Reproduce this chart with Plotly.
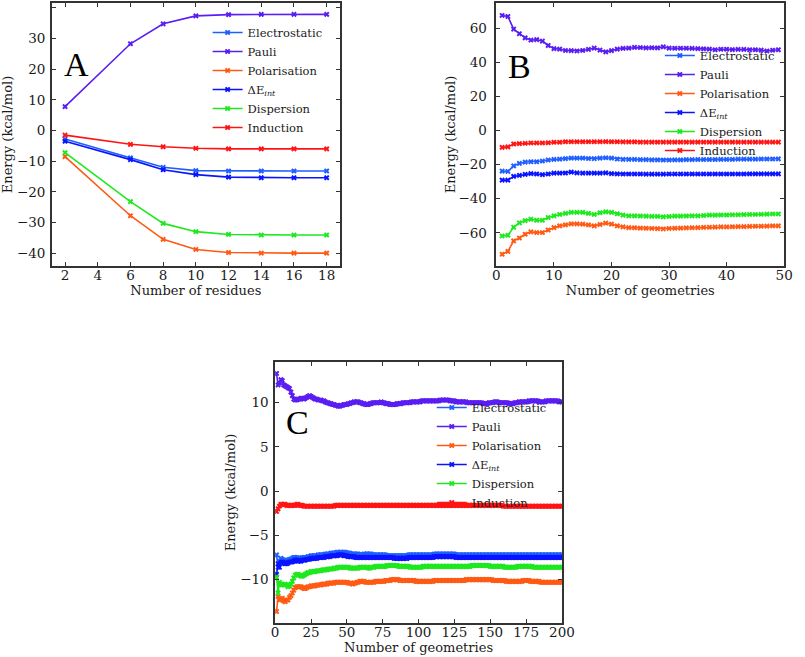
import plotly.graph_objects as go

# ---------------- Panel A ----------------
a_residues = [2, 6, 8, 10, 12, 14, 16, 18]
a_electrostatic = [-2.8, -8.9, -12.0, -13.1, -13.2, -13.2, -13.2, -13.2]
a_pauli = [7.8, 28.3, 34.8, 37.4, 37.8, 37.9, 37.9, 37.9]
a_polarisation = [-8.5, -27.8, -35.5, -38.8, -39.8, -40.0, -40.0, -40.0]
a_deint = [-3.5, -9.5, -12.8, -14.4, -15.2, -15.4, -15.4, -15.4]
a_dispersion = [-7.2, -23.2, -30.3, -33.0, -33.9, -34.1, -34.1, -34.1]
a_induction = [-1.5, -4.5, -5.3, -5.8, -6.0, -6.0, -6.0, -6.0]

# ---------------- Panel B ----------------
b_geoms = list(range(1, 50))
b_pauli = [67.4, 66.8, 59.4, 56.7, 54.3, 53.0, 53.2, 52.4, 49.8, 48.0,
           47.7, 46.9, 46.8, 46.6, 46.9, 47.5, 48.3, 47.1, 46.1, 46.8,
           47.7, 48.1, 48.3, 48.7, 48.6, 48.4, 48.5, 48.4, 49.0, 48.3,
           48.2, 48.2, 48.2, 48.1, 48.0, 47.8, 47.7, 47.3, 47.6, 47.6,
           47.4, 47.5, 47.5, 47.3, 47.3, 47.1, 46.6, 47.0, 47.3]
b_induction = [-9.9, -9.6, -7.9, -7.7, -7.5, -7.3, -7.3, -7.3, -7.2, -6.9,
               -6.9, -6.6, -6.6, -6.6, -6.6, -6.6, -6.6, -6.6, -6.5, -6.6,
               -6.6, -6.7, -6.7, -6.7, -6.8, -6.8, -6.8, -6.8, -6.8, -6.8,
               -6.8, -6.8, -6.8, -6.8, -6.8, -6.8, -6.8, -6.8, -6.8, -6.8,
               -6.8, -6.8, -6.8, -6.8, -6.8, -6.8, -6.8, -6.8, -6.8]
b_electrostatic = [-23.8, -24.0, -20.7, -19.3, -18.5, -18.3, -18.3, -17.9, -17.3, -16.9,
                   -16.8, -16.5, -16.2, -16.2, -16.2, -16.4, -16.5, -16.2, -16.0, -16.2,
                   -16.7, -16.9, -16.9, -16.9, -17.1, -17.1, -17.2, -17.2, -17.3, -17.3,
                   -17.2, -17.2, -17.1, -17.1, -17.0, -17.0, -17.0, -17.0, -16.9, -16.9,
                   -16.9, -16.8, -16.8, -16.8, -16.8, -16.7, -16.7, -16.7, -16.6]
b_deint = [-29.1, -29.1, -26.9, -26.3, -25.7, -25.3, -25.5, -25.9, -25.5, -25.0,
           -25.0, -24.9, -24.4, -24.8, -25.0, -25.0, -25.0, -25.0, -24.8, -25.3,
           -25.4, -25.5, -25.5, -25.5, -25.5, -25.6, -25.6, -25.6, -25.6, -25.5,
           -25.5, -25.5, -25.5, -25.5, -25.5, -25.5, -25.5, -25.5, -25.5, -25.5,
           -25.5, -25.5, -25.5, -25.4, -25.4, -25.4, -25.4, -25.4, -25.4]
b_dispersion = [-61.8, -61.4, -56.7, -54.1, -52.8, -52.0, -52.6, -52.6, -51.0, -50.0,
                -49.2, -48.6, -48.0, -48.0, -48.0, -48.6, -49.2, -48.2, -47.7, -48.0,
                -48.8, -49.6, -50.0, -50.0, -50.1, -50.2, -50.3, -50.3, -50.6, -50.4,
                -50.2, -50.2, -50.1, -50.0, -50.0, -49.8, -49.6, -49.6, -49.5, -49.5,
                -49.4, -49.4, -49.3, -49.2, -49.2, -49.1, -49.0, -48.9, -48.9]
b_polarisation = [-72.5, -70.8, -64.7, -63.0, -60.8, -59.4, -59.8, -59.8, -58.3, -56.9,
                  -55.9, -55.3, -54.7, -54.7, -54.9, -55.3, -55.9, -55.1, -54.3, -54.9,
                  -55.9, -56.5, -56.9, -57.0, -57.2, -57.3, -57.4, -57.5, -57.7, -57.4,
                  -57.3, -57.2, -57.1, -57.0, -56.9, -56.8, -56.7, -56.6, -56.5, -56.5,
                  -56.4, -56.3, -56.3, -56.2, -56.1, -56.1, -56.0, -55.9, -55.9]

# ---------------- Panel C ----------------
c_geoms = list(range(1, 201))
c_pauli = [13.3, 12.0, 12.2, 12.6, 12.5, 12.0, 11.9, 11.8, 11.7, 11.6,
           11.2, 10.8, 10.4, 10.3, 10.3, 10.4, 10.4, 10.5, 10.5, 10.4,
           10.5, 10.6, 10.7, 10.8, 10.7, 10.6, 10.5, 10.4, 10.4, 10.3,
           10.3, 10.3, 10.2, 10.2, 10.1, 10.0, 10.0, 9.9, 9.9, 9.8,
           9.8, 9.7, 9.7, 9.6, 9.6, 9.7, 9.7, 9.8, 9.8, 9.8,
           9.9, 9.9, 10.0, 10.0, 10.1, 10.1, 10.1, 10.1, 10.0, 10.0,
           9.9, 9.9, 9.8, 9.8, 9.8, 9.9, 9.9, 10.0, 10.0, 10.0,
           10.0, 10.0, 10.0, 10.1, 10.0, 10.0, 9.9, 9.9, 9.9, 9.8,
           9.8, 9.8, 9.8, 9.8, 9.9, 9.9, 9.9, 9.9, 10.0, 10.0,
           10.0, 10.0, 10.0, 10.0, 10.1, 10.1, 10.1, 10.1, 10.1, 10.1,
           10.1, 10.2, 10.2, 10.2, 10.2, 10.2, 10.2, 10.2, 10.2, 10.2,
           10.2, 10.2, 10.2, 10.2, 10.3, 10.3, 10.3, 10.3, 10.3, 10.3,
           10.3, 10.2, 10.2, 10.2, 10.2, 10.1, 10.1, 10.1, 10.1, 10.1,
           10.1, 10.1, 10.1, 10.0, 10.0, 10.0, 10.0, 10.0, 10.0, 10.0,
           10.0, 10.0, 10.0, 10.0, 9.9, 9.9, 9.9, 9.9, 10.0, 10.0,
           10.0, 10.0, 10.1, 10.1, 10.1, 10.0, 10.0, 10.0, 10.0, 10.0,
           10.0, 10.0, 9.9, 9.9, 9.9, 9.9, 10.0, 10.0, 10.0, 10.1,
           10.1, 10.1, 10.1, 10.1, 10.1, 10.1, 10.2, 10.2, 10.2, 10.2,
           10.2, 10.2, 10.2, 10.1, 10.1, 10.1, 10.1, 10.1, 10.2, 10.2,
           10.2, 10.2, 10.2, 10.2, 10.2, 10.2, 10.2, 10.1, 10.1, 10.1]
c_induction = [-2.3, -2.0, -1.7, -1.5, -1.5, -1.5, -1.5, -1.6, -1.6, -1.6,
               -1.6, -1.6, -1.6, -1.6, -1.5, -1.5, -1.6, -1.6, -1.6, -1.7,
               -1.7, -1.7, -1.7, -1.7, -1.7, -1.7, -1.7, -1.7, -1.7, -1.7,
               -1.7, -1.7, -1.7, -1.7, -1.7, -1.7, -1.7, -1.7, -1.7, -1.7,
               -1.7, -1.6, -1.6, -1.6, -1.6, -1.6, -1.6, -1.6, -1.6, -1.6,
               -1.6, -1.6, -1.6, -1.6, -1.6, -1.6, -1.6, -1.6, -1.6, -1.6,
               -1.6, -1.6, -1.6, -1.6, -1.6, -1.6, -1.6, -1.6, -1.6, -1.6,
               -1.6, -1.6, -1.6, -1.6, -1.6, -1.6, -1.6, -1.6, -1.6, -1.6,
               -1.6, -1.6, -1.6, -1.6, -1.6, -1.6, -1.6, -1.6, -1.6, -1.6,
               -1.6, -1.6, -1.6, -1.6, -1.6, -1.6, -1.6, -1.6, -1.6, -1.6,
               -1.6, -1.6, -1.6, -1.6, -1.6, -1.6, -1.6, -1.6, -1.6, -1.6,
               -1.6, -1.6, -1.6, -1.6, -1.6, -1.6, -1.6, -1.6, -1.6, -1.6,
               -1.6, -1.6, -1.6, -1.6, -1.6, -1.6, -1.6, -1.6, -1.6, -1.6,
               -1.6, -1.6, -1.6, -1.6, -1.6, -1.6, -1.6, -1.6, -1.6, -1.6,
               -1.6, -1.6, -1.6, -1.6, -1.6, -1.6, -1.6, -1.6, -1.6, -1.6,
               -1.6, -1.6, -1.6, -1.6, -1.6, -1.6, -1.6, -1.6, -1.7, -1.7,
               -1.7, -1.7, -1.7, -1.7, -1.7, -1.7, -1.7, -1.7, -1.7, -1.7,
               -1.7, -1.7, -1.7, -1.7, -1.7, -1.7, -1.7, -1.7, -1.7, -1.7,
               -1.7, -1.7, -1.7, -1.7, -1.7, -1.7, -1.7, -1.7, -1.7, -1.7,
               -1.7, -1.7, -1.7, -1.7, -1.7, -1.7, -1.7, -1.7, -1.7, -1.7]
c_electrostatic = [-7.2, -8.6, -7.9, -7.6, -7.7, -7.8, -7.9, -7.9, -7.8, -7.7,
                   -7.7, -7.6, -7.5, -7.5, -7.5, -7.6, -7.6, -7.6, -7.5, -7.5,
                   -7.5, -7.5, -7.4, -7.4, -7.3, -7.3, -7.3, -7.3, -7.3, -7.2,
                   -7.2, -7.2, -7.2, -7.2, -7.1, -7.1, -7.1, -7.1, -7.0, -7.0,
                   -7.0, -7.0, -6.9, -6.9, -6.9, -6.9, -6.9, -6.9, -6.9, -7.0,
                   -7.0, -7.0, -7.1, -7.1, -7.1, -7.1, -7.1, -7.1, -7.2, -7.2,
                   -7.2, -7.1, -7.1, -7.1, -7.1, -7.1, -7.1, -7.2, -7.2, -7.2,
                   -7.2, -7.2, -7.2, -7.2, -7.2, -7.2, -7.2, -7.3, -7.3, -7.3,
                   -7.3, -7.3, -7.3, -7.3, -7.3, -7.3, -7.3, -7.3, -7.3, -7.3,
                   -7.3, -7.3, -7.2, -7.2, -7.2, -7.2, -7.2, -7.2, -7.2, -7.2,
                   -7.2, -7.2, -7.2, -7.2, -7.2, -7.2, -7.2, -7.2, -7.2, -7.2,
                   -7.1, -7.1, -7.1, -7.1, -7.1, -7.1, -7.1, -7.1, -7.1, -7.1,
                   -7.1, -7.1, -7.1, -7.1, -7.1, -7.2, -7.2, -7.2, -7.2, -7.2,
                   -7.2, -7.2, -7.2, -7.2, -7.2, -7.2, -7.2, -7.2, -7.2, -7.2,
                   -7.2, -7.2, -7.2, -7.2, -7.2, -7.2, -7.2, -7.2, -7.2, -7.2,
                   -7.2, -7.2, -7.2, -7.2, -7.2, -7.2, -7.2, -7.2, -7.2, -7.2,
                   -7.2, -7.2, -7.2, -7.2, -7.2, -7.2, -7.2, -7.2, -7.2, -7.2,
                   -7.2, -7.2, -7.2, -7.2, -7.2, -7.2, -7.2, -7.2, -7.2, -7.2,
                   -7.2, -7.2, -7.2, -7.2, -7.2, -7.2, -7.2, -7.2, -7.2, -7.2,
                   -7.2, -7.2, -7.2, -7.2, -7.2, -7.2, -7.2, -7.2, -7.2, -7.2]
c_deint = [-9.4, -8.2, -8.6, -8.1, -8.0, -8.1, -8.2, -8.2, -8.1, -8.0,
           -8.0, -8.0, -7.9, -7.8, -7.8, -7.9, -7.9, -7.9, -7.8, -7.8,
           -7.8, -7.7, -7.7, -7.7, -7.6, -7.6, -7.6, -7.6, -7.6, -7.5,
           -7.5, -7.5, -7.5, -7.5, -7.4, -7.4, -7.4, -7.4, -7.3, -7.3,
           -7.3, -7.3, -7.3, -7.2, -7.2, -7.2, -7.2, -7.3, -7.3, -7.3,
           -7.4, -7.4, -7.4, -7.4, -7.4, -7.5, -7.5, -7.5, -7.5, -7.5,
           -7.5, -7.5, -7.5, -7.5, -7.5, -7.5, -7.5, -7.5, -7.5, -7.5,
           -7.5, -7.5, -7.5, -7.5, -7.5, -7.5, -7.5, -7.5, -7.5, -7.5,
           -7.5, -7.5, -7.6, -7.6, -7.6, -7.6, -7.6, -7.6, -7.6, -7.6,
           -7.6, -7.6, -7.5, -7.5, -7.5, -7.5, -7.5, -7.5, -7.5, -7.5,
           -7.5, -7.5, -7.5, -7.5, -7.5, -7.5, -7.5, -7.5, -7.5, -7.5,
           -7.4, -7.4, -7.4, -7.4, -7.4, -7.4, -7.4, -7.4, -7.4, -7.4,
           -7.4, -7.4, -7.4, -7.4, -7.4, -7.5, -7.5, -7.5, -7.5, -7.5,
           -7.5, -7.5, -7.5, -7.5, -7.5, -7.5, -7.5, -7.5, -7.5, -7.5,
           -7.5, -7.5, -7.5, -7.5, -7.5, -7.5, -7.5, -7.5, -7.5, -7.5,
           -7.5, -7.5, -7.5, -7.5, -7.5, -7.5, -7.5, -7.5, -7.5, -7.5,
           -7.5, -7.5, -7.5, -7.5, -7.5, -7.5, -7.5, -7.5, -7.5, -7.5,
           -7.5, -7.5, -7.5, -7.5, -7.5, -7.5, -7.5, -7.5, -7.5, -7.5,
           -7.5, -7.5, -7.5, -7.5, -7.5, -7.5, -7.5, -7.5, -7.5, -7.5,
           -7.5, -7.5, -7.5, -7.5, -7.5, -7.5, -7.5, -7.5, -7.5, -7.5]
c_dispersion = [-9.7, -11.5, -10.3, -10.5, -10.6, -10.6, -10.5, -10.6, -10.8, -10.7,
                -10.5, -10.2, -9.8, -9.5, -9.4, -9.4, -9.5, -9.6, -9.6, -9.5,
                -9.4, -9.3, -9.2, -9.2, -9.1, -9.1, -9.1, -9.1, -9.0, -9.0,
                -9.0, -9.0, -8.9, -8.9, -8.9, -8.9, -8.8, -8.8, -8.8, -8.8,
                -8.7, -8.7, -8.7, -8.6, -8.6, -8.6, -8.6, -8.6, -8.6, -8.6,
                -8.6, -8.7, -8.7, -8.7, -8.7, -8.7, -8.7, -8.7, -8.6, -8.6,
                -8.6, -8.6, -8.6, -8.6, -8.7, -8.7, -8.6, -8.6, -8.6, -8.5,
                -8.5, -8.5, -8.5, -8.5, -8.5, -8.5, -8.5, -8.4, -8.4, -8.4,
                -8.4, -8.4, -8.4, -8.4, -8.4, -8.5, -8.5, -8.5, -8.5, -8.5,
                -8.5, -8.5, -8.5, -8.6, -8.6, -8.6, -8.6, -8.6, -8.6, -8.6,
                -8.6, -8.6, -8.5, -8.5, -8.5, -8.5, -8.5, -8.5, -8.5, -8.5,
                -8.5, -8.5, -8.5, -8.5, -8.5, -8.5, -8.5, -8.5, -8.5, -8.5,
                -8.5, -8.5, -8.5, -8.5, -8.5, -8.5, -8.5, -8.5, -8.5, -8.5,
                -8.5, -8.5, -8.5, -8.5, -8.5, -8.5, -8.4, -8.4, -8.4, -8.4,
                -8.4, -8.4, -8.4, -8.4, -8.4, -8.4, -8.4, -8.4, -8.4, -8.5,
                -8.5, -8.5, -8.5, -8.5, -8.5, -8.5, -8.5, -8.5, -8.5, -8.6,
                -8.6, -8.6, -8.6, -8.6, -8.6, -8.6, -8.6, -8.6, -8.5, -8.5,
                -8.5, -8.5, -8.5, -8.5, -8.5, -8.5, -8.5, -8.5, -8.5, -8.6,
                -8.6, -8.6, -8.6, -8.6, -8.6, -8.6, -8.6, -8.6, -8.6, -8.6,
                -8.6, -8.6, -8.6, -8.6, -8.6, -8.6, -8.6, -8.6, -8.6, -8.6]
c_polarisation = [-13.6, -11.9, -12.3, -12.2, -12.1, -12.4, -12.5, -12.3, -12.3, -12.0,
                  -11.8, -11.5, -11.2, -10.9, -10.8, -10.8, -10.8, -10.8, -10.9, -11.0,
                  -11.0, -10.9, -10.8, -10.8, -10.7, -10.7, -10.7, -10.7, -10.6, -10.6,
                  -10.6, -10.6, -10.5, -10.5, -10.5, -10.5, -10.4, -10.4, -10.4, -10.4,
                  -10.4, -10.3, -10.3, -10.3, -10.3, -10.3, -10.3, -10.3, -10.3, -10.3,
                  -10.4, -10.4, -10.4, -10.5, -10.4, -10.4, -10.3, -10.3, -10.2, -10.2,
                  -10.2, -10.2, -10.3, -10.3, -10.3, -10.3, -10.3, -10.3, -10.3, -10.2,
                  -10.2, -10.2, -10.2, -10.2, -10.2, -10.2, -10.1, -10.1, -10.1, -10.1,
                  -10.0, -10.0, -10.0, -10.0, -10.0, -10.0, -10.1, -10.1, -10.1, -10.1,
                  -10.1, -10.1, -10.1, -10.1, -10.1, -10.1, -10.1, -10.2, -10.2, -10.2,
                  -10.2, -10.2, -10.2, -10.2, -10.2, -10.2, -10.2, -10.2, -10.2, -10.2,
                  -10.1, -10.1, -10.1, -10.1, -10.1, -10.1, -10.1, -10.1, -10.1, -10.1,
                  -10.1, -10.1, -10.1, -10.1, -10.1, -10.1, -10.1, -10.1, -10.1, -10.1,
                  -10.1, -10.1, -10.0, -10.0, -10.0, -10.0, -10.0, -10.0, -10.0, -10.0,
                  -10.0, -10.0, -10.0, -10.0, -10.0, -10.0, -10.0, -10.0, -10.0, -10.0,
                  -10.0, -10.1, -10.1, -10.1, -10.1, -10.1, -10.1, -10.1, -10.1, -10.1,
                  -10.2, -10.2, -10.2, -10.2, -10.2, -10.2, -10.2, -10.2, -10.2, -10.2,
                  -10.2, -10.2, -10.1, -10.1, -10.1, -10.1, -10.1, -10.2, -10.2, -10.2,
                  -10.2, -10.2, -10.2, -10.2, -10.3, -10.3, -10.3, -10.3, -10.3, -10.3,
                  -10.3, -10.3, -10.3, -10.3, -10.3, -10.3, -10.3, -10.3, -10.3, -10.3]

series_names = ["Electrostatic", "Pauli", "Polarisation",
                "ΔE<sub><i>int</i></sub>", "Dispersion", "Induction"]
series_colors = ["#1f5fff", "#5a1ef2", "#ff5a14", "#0a14ff", "#1ee81e", "#ff1414"]

panels = [
    (a_residues, [a_electrostatic, a_pauli, a_polarisation, a_deint, a_dispersion, a_induction], "x", "y", "legend"),
    (b_geoms, [b_electrostatic, b_pauli, b_polarisation, b_deint, b_dispersion, b_induction], "x2", "y2", "legend2"),
    (c_geoms, [c_electrostatic, c_pauli, c_polarisation, c_deint, c_dispersion, c_induction], "x3", "y3", "legend3"),
]

fig = go.Figure()
for xs, ys_list, xa, ya, lg in panels:
    for name, color, ys in zip(series_names, series_colors, ys_list):
        fig.add_trace(go.Scatter(
            x=xs, y=ys, name=name, mode="lines+markers",
            line=dict(color=color, width=1.6),
            marker=dict(symbol="x", size=5, color=color, line=dict(width=0)),
            xaxis=xa, yaxis=ya, legend=lg,
        ))

SERIF = "DejaVu Serif"
AX = "#333333"


def axis(domain, rng, dtick, title, anchor, standoff, tls=0):
    return dict(
        domain=domain, range=rng, dtick=dtick, anchor=anchor,
        showline=True, linecolor=AX, linewidth=1.6, mirror="allticks",
        ticks="inside", ticklen=4, tickwidth=1.2, tickcolor=AX,
        showgrid=False, zeroline=False, ticklabelstandoff=tls,
        tickfont=dict(family=SERIF, size=13.5, color="#1a1a1a"),
        title=dict(text=title, font=dict(family=SERIF, size=13, color="#1a1a1a"), standoff=standoff),
    )


W, H = 805, 657
def dx(a, b):
    return [a / W, b / W]
def dy(top, bottom):
    return [1 - bottom / H, 1 - top / H]

legend_common = dict(font=dict(family=SERIF, size=11.5, color="#1a1a1a"),
                     bgcolor="rgba(0,0,0,0)", borderwidth=0,
                     xanchor="left", yanchor="top", tracegroupgap=0,
                     itemwidth=30)

fig.update_layout(
    width=W, height=H, margin=dict(l=0, r=0, t=0, b=0),
    paper_bgcolor="white", plot_bgcolor="white", showlegend=True,
    xaxis=axis(dx(49, 343), [1.2, 18.8], 2, "Number of residues", "y", 4, tls=-4),
    yaxis=axis(dy(3, 266), [-44.2, 41.6], 10, "Energy (kcal/mol)", "x", 2, tls=2),
    xaxis2=axis(dx(503, 797), [0, 50], 10, "Number of geometries", "y2", 4, tls=-4),
    yaxis2=axis(dy(3, 266), [-79.4, 74.7], 20, "Energy (kcal/mol)", "x2", 0, tls=5),
    xaxis3=axis(dx(277, 570), [0, 200], 25, "Number of geometries", "y3", 4, tls=-4),
    yaxis3=axis(dy(362, 623), [-14.9, 14.6], 5, "Energy (kcal/mol)", "x3", 2, tls=2),
    legend=dict(x=208 / W, y=1 - 18 / H, **legend_common),
    legend2=dict(x=670 / W, y=1 - 41 / H, **legend_common),
    legend3=dict(x=437 / W, y=1 - 393 / H, **legend_common),
    annotations=[
        dict(text="A", x=74 / W, y=1 - 64 / H, xref="paper", yref="paper", showarrow=False,
             xanchor="center", yanchor="middle", font=dict(family="Liberation Serif", size=34, color="black")),
        dict(text="B", x=527 / W, y=1 - 66 / H, xref="paper", yref="paper", showarrow=False,
             xanchor="center", yanchor="middle", font=dict(family="Liberation Serif", size=34, color="black")),
        dict(text="C", x=300 / W, y=1 - 422 / H, xref="paper", yref="paper", showarrow=False,
             xanchor="center", yanchor="middle", font=dict(family="Liberation Serif", size=34, color="black")),
    ],
)

fig.write_html("out.html")
